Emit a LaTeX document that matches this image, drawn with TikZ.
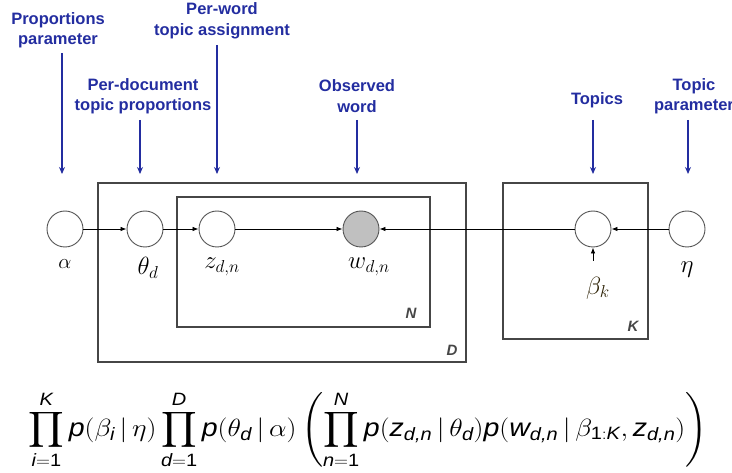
\documentclass[tikz,border=0pt]{standalone}
\usepackage{amsmath}
\usepackage{fontspec}
\setsansfont{Liberation Sans}
\usetikzlibrary{arrows.meta}
\definecolor{lblue}{RGB}{35,45,160}
\definecolor{plategray}{RGB}{70,70,70}
\definecolor{circgray}{RGB}{85,85,85}
\definecolor{obsfill}{RGB}{192,192,192}
\definecolor{betacol}{RGB}{45,34,5}
\newcommand{\sv}[1]{\text{\sffamily\itshape #1}}
\newcommand{\su}[1]{\text{\sffamily #1}}
\tikzset{
  annot/.style={text=lblue, font=\sffamily\bfseries\fontsize{16.5}{20.5}\selectfont, align=center, inner sep=0pt},
  bluearrow/.style={draw=lblue, line width=1.3pt, -{Stealth[length=7pt,width=6pt]}},
  var/.style={circle, draw=circgray, line width=0.9pt, minimum size=36pt, inner sep=0pt, fill=white},
  obs/.style={var, fill=obsfill},
  edge/.style={draw=black, line width=0.8pt, -{Latex[length=6pt,width=4.5pt]}},
  plate/.style={draw=plategray, line width=1.1pt},
  platelbl/.style={text=plategray, font=\sffamily\bfseries\itshape\fontsize{15}{15}\selectfont, inner sep=0pt},
  varlbl/.style={inner sep=0pt, font=\fontsize{24}{24}\selectfont}
}
\begin{document}
\begin{tikzpicture}[x=1pt,y=-1pt]
\useasboundingbox (0,0) rectangle (732,473);
% plates
\draw[plate] (98,183) rectangle (466,362);
\draw[plate] (177,197) rectangle (430,327);
\draw[plate] (503,183) rectangle (648,339);
\node[platelbl] (Nl) at (411,313) {N};
\node[platelbl] (Dl) at (452,350) {D};
\node[platelbl] (Kl) at (633,326) {K};
% variables
\node[var] (alpha) at (65,229) {};
\node[var] (theta) at (145,229) {};
\node[var] (z) at (217,229) {};
\node[obs] (w) at (361,229) {};
\node[var] (beta) at (593,229) {};
\node[var] (eta) at (687,229) {};
% variable labels
\node[varlbl, font=\fontsize{20}{20}\selectfont] (alphal) at (65,264) {$\alpha$};
\node[varlbl] (thetal) at (148,268) {$\theta_d$};
\node[varlbl] (zl) at (222,267) {$z_{d,n}$};
\node[varlbl] (wl) at (369,267) {$w_{d,n}$};
\node[varlbl, text=betacol, font=\fontsize{26}{26}\selectfont] (betal) at (598,288) {$\beta_k$};
\node[varlbl] (etal) at (687,270) {$\eta$};
% edges
\draw[edge] (alpha) -- (theta);
\draw[edge] (theta) -- (z);
\draw[edge] (z) -- (w);
\draw[edge] (beta) -- (w);
\draw[edge] (eta) -- (beta);
\coordinate (bt) at (593,261);
\draw[edge] (bt) -- (beta);
% annotations
\node[annot] (a1) at (58,30) {Proportions\\parameter};
\node[annot] (a2) at (222,21) {Per-word\\topic assignment};
\node[annot] (a3) at (143,96) {Per-document\\topic proportions};
\node[annot] (a4) at (357,96) {Observed\\word};
\node[annot] (a5) at (597,100) {Topics};
\node[annot] (a6) at (694,96) {Topic\\parameter};
\coordinate (s1) at (62,53);
\coordinate (s2) at (217,45);
\coordinate (s3) at (140,120);
\coordinate (s4) at (357,120);
\coordinate (s5) at (593,120);
\coordinate (s6) at (688,120);
\coordinate (e1) at (62,174);
\coordinate (e2) at (217,174);
\coordinate (e3) at (140,174);
\coordinate (e4) at (357,174);
\coordinate (e5) at (593,174);
\coordinate (e6) at (688,174);
\draw[bluearrow] (s1) -- (e1);
\draw[bluearrow] (s2) -- (e2);
\draw[bluearrow] (s3) -- (e3);
\draw[bluearrow] (s4) -- (e4);
\draw[bluearrow] (s5) -- (e5);
\draw[bluearrow] (s6) -- (e6);
% formula
\node[inner sep=0pt, xscale=1.12, font=\fontsize{25.5}{29}\selectfont] (formula) at (368,430) {$\displaystyle
\prod_{\sv{i}=\su{1}}^{\sv{K}} \sv{p}(\beta_{\sv{i}}\,|\,\eta)
\prod_{\sv{d}=\su{1}}^{\sv{D}} \sv{p}(\theta_{\sv{d}}\,|\,\alpha)
\left( \prod_{\sv{n}=\su{1}}^{\sv{N}} \sv{p}(\sv{z}_{\sv{d,n}}\,|\,\theta_{\sv{d}})\sv{p}(\sv{w}_{\sv{d,n}}\,|\,\beta_{\su{1}:\sv{K}}, \sv{z}_{\sv{d,n}}) \right)$};
\end{tikzpicture}
\end{document}
